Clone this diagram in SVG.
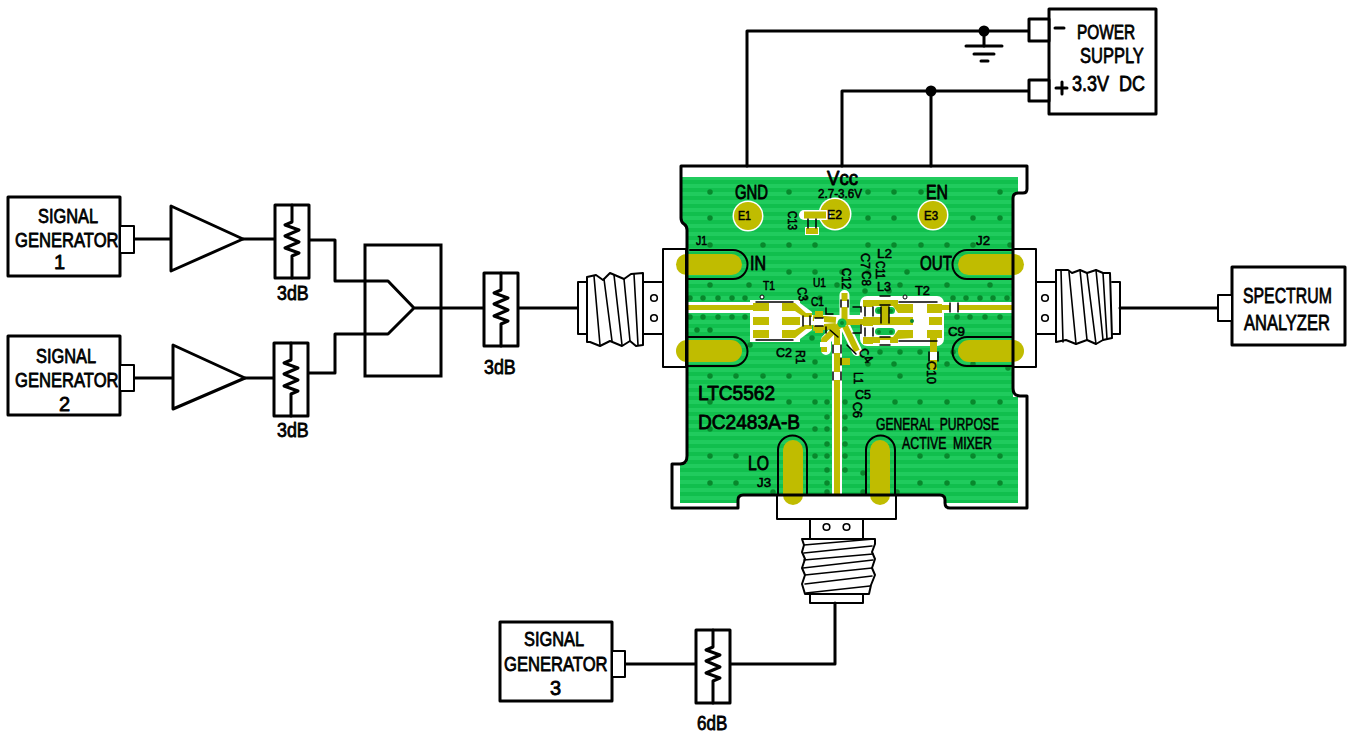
<svg xmlns="http://www.w3.org/2000/svg" width="1350" height="734" viewBox="0 0 1350 734">
<style>
.l{fill:none;stroke:#000;stroke-width:3;stroke-linejoin:round;stroke-linecap:round}
.b{fill:#fff;stroke:#000;stroke-width:3;stroke-linejoin:round}
.m{fill:#fff;stroke:#000;stroke-width:2;stroke-linejoin:round}
.n{fill:none;stroke:#000;stroke-width:2;stroke-linecap:round;stroke-linejoin:round}
.h{fill:none;stroke:#000;stroke-width:1.6;stroke-linecap:round}
.t{fill:none;stroke:#000;stroke-width:1.5;stroke-linecap:round}
text{font-family:"Liberation Sans Narrow","Liberation Sans",sans-serif;fill:#000;stroke:#000;stroke-width:.8;stroke-linejoin:round}
.s{stroke-width:.55}
.y{fill:#c0bc00}
.w{fill:#fff}
.ws{fill:none;stroke:#fff;stroke-width:10;stroke-linecap:round;stroke-linejoin:round}
.ys{fill:none;stroke:#c0bc00;stroke-width:6;stroke-linejoin:round}
</style>
<defs>
<pattern id="st" width="8" height="8" patternUnits="userSpaceOnUse"><rect width="8" height="8" fill="#11bf4d"/><rect width="8" height="4" fill="#20cb5d"/></pattern>
<g id="att"><rect class="b" x="0" y="0" width="34" height="73"/><path class="l" d="M17 0V17L10 20L24 25L10 31L24 37L10 43L24 48L17 51V73"/></g>
<g id="hole"><circle r="3.3" fill="#fff" stroke="#000" stroke-width="1.6"/></g>
</defs>

<g id="board">
<polygon fill="url(#st)" points="682,177 1018,177 1018,194 1013,194 1013,397 1018,397 1018,503 945,503 945,495 738,495 738,503 680,503 680,463 687,463 687,228 682,222"/>
<path fill="none" stroke="#08882c" stroke-width="5.500" stroke-linecap="round" d="M710 192h0M789 192h0M868 192h0M894 192h0M921 192h0M1000 192h0M710 218h0M868 218h0M894 218h0M973 218h0M1000 218h0M710 245h0M763 245h0M789 245h0M815 245h0M868 245h0M894 245h0M921 245h0M947 245h0M973 245h0M1010 245h0M789 272h0M815 272h0M842 272h0M868 272h0M907 272h0M710 285h0M749 285h0M837 285h0M900 285h0M947 285h0M990 285h0M690 298h0M703 298h0M718 298h0M732 298h0M745 298h0M806 298h0M820 298h0M865 291h0M889 291h0M953 298h0M966 298h0M980 298h0M993 298h0M1007 298h0M690 317h0M703 317h0M718 317h0M732 317h0M745 317h0M957 317h0M970 317h0M985 317h0M1000 317h0M812 338h0M880 352h0M900 352h0M920 352h0M953 352h0M710 330h0M697 330h0M750 345h0M815 362h0M710 376h0M736 376h0M763 376h0M789 376h0M815 376h0M868 364h0M894 364h0M900 376h0M947 364h0M973 364h0M1008 368h0M710 402h0M789 402h0M815 402h0M827 402h0M845 402h0M895 402h0M920 402h0M947 402h0M973 402h0M1000 402h0M710 429h0M815 429h0M827 429h0M845 429h0M827 417h0M845 417h0M827 444h0M845 444h0M710 456h0M736 456h0M815 456h0M827 456h0M845 456h0M920 456h0M947 456h0M973 456h0M1000 456h0M710 483h0M736 483h0M773 492h0M827 470h0M845 470h0M827 483h0M863 473h0M920 483h0M947 483h0M973 483h0M1000 483h0M827 492h0M863 492h0M897 492h0"/>
<circle class="w" cx="748" cy="216" r="15.5"/><circle class="y" cx="748" cy="216" r="14"/>
<circle class="w" cx="835" cy="214" r="16.5"/><circle class="y" cx="835" cy="214" r="15"/>
<circle class="w" cx="933" cy="215" r="15.5"/><circle class="y" cx="933" cy="215" r="14"/>
<path d="M804 215H826" stroke="#fff" stroke-width="10" stroke-linecap="round"/>
<path d="M804 215H826" stroke="#c0bc00" stroke-width="7"/>
<rect class="w" x="805" y="227" width="14" height="8"/>
<rect class="y" x="806" y="228" width="12" height="6"/>
<path class="t" d="M808 219V228M816 219V228"/>

<rect class="y" x="676" y="254" width="66" height="21" rx="10.5"/>
<rect class="y" x="676" y="340" width="66" height="22" rx="11"/>
<rect class="y" x="958" y="254" width="66" height="21" rx="10.5"/>
<rect class="y" x="958" y="340" width="66" height="22" rx="11"/>
<path class="n" d="M690 250H733A14.5 14.5 0 0 1 733 279H686M686 337H733A14.5 14.5 0 0 1 733 366H686M1012 250H967A14.5 14.5 0 0 0 967 279H1012M1012 337H967A14.5 14.5 0 0 0 967 366H1012"/>
<rect class="y" x="783" y="440" width="20" height="65" rx="10"/>
<rect class="y" x="870" y="440" width="20" height="65" rx="10"/>
<path class="n" d="M778 495V450A14.5 14.5 0 0 1 807 450V495M866 495V450A14.5 14.5 0 0 1 895 450V495"/>

<rect class="w" x="688" y="302" width="70" height="11"/>
<rect class="w" x="750" y="300" width="50" height="42"/>
<polygon class="w" points="796,300 812,312 812,330 796,342"/>
<rect class="w" x="860" y="296" width="84" height="50" rx="7"/>
<rect class="w" x="940" y="302" width="73" height="11"/>
<rect class="w" x="832" y="360" width="10" height="135"/>
<path class="ws" d="M806 320H866M844.500 295V323M842 323L826 340V350M837 330V372M845 326L857 351"/>

<g class="y">
<rect x="688" y="305" width="65" height="5"/>
<rect x="753" y="303" width="16" height="8"/><rect x="753" y="317" width="16" height="8"/><rect x="753" y="330" width="16" height="8"/>
<rect x="782" y="317" width="18" height="8"/>
<polygon points="782,303 795,303 806,313 812,313 812,317 804,317 795,311 782,311"/>
<polygon points="782,330 795,330 804,325 812,325 812,329 806,329 795,338 782,338"/>
<rect x="834" y="380" width="6" height="115"/>
<rect x="840" y="358" width="10" height="7"/>
<rect x="815" y="311" width="8" height="7"/><rect x="815" y="326" width="8" height="7"/>
<rect x="863" y="300" width="10" height="7"/><rect x="863" y="317" width="10" height="9"/><rect x="863" y="337" width="10" height="7"/>
<rect x="866" y="300" width="32" height="6"/><rect x="866" y="337" width="32" height="6"/>
<polygon points="897,304 913,304 913,313 898,313 893,306"/>
<polygon points="893,337 898,330 913,330 913,338 897,339"/>
<rect x="863" y="317" width="50" height="8"/>
<rect x="927" y="304" width="15" height="9"/><rect x="929" y="317" width="13" height="8"/><rect x="927" y="330" width="15" height="8"/>
<rect x="942" y="305" width="8" height="5"/><rect x="958" y="305" width="55" height="5"/>
<rect x="930" y="338" width="7" height="14"/><rect x="930" y="360" width="7" height="10"/>
</g>
<rect x="875" y="307" width="20" height="7" rx="3.5" fill="#11bf4d"/>
<rect x="875" y="328" width="20" height="7" rx="3.500" fill="#11bf4d"/>
<rect class="y" x="881" y="306" width="8" height="11"/>
<rect class="w" x="880" y="296" width="10" height="4"/><rect class="w" x="880" y="340" width="10" height="5"/>
<path class="ys" d="M813 318L836 320M813 328L836 326M844.500 293V323M842 322H866M842 323L824 340V352M837 330V372M845 326L857 351"/>
<rect class="w" x="950" y="304" width="8" height="7"/>
<rect class="w" x="930" y="352" width="7" height="8"/>
<rect class="w" x="840" y="301" width="9" height="6"/>
<rect class="w" x="814" y="318" width="10" height="8"/>
<rect class="w" x="820" y="342" width="8" height="5"/>
<rect class="w" x="833" y="345" width="8" height="8"/><rect class="w" x="833" y="372" width="8" height="8"/>
<circle cx="842" cy="323" r="4.500" fill="#11bf4d"/>
<path fill="none" stroke="#08882c" stroke-width="4" stroke-linecap="round" d="M842 323h0M912 321h0M879 311h0M891 311h0M879 332h0M891 332h0"/>
<path class="t" d="M756 302H793M756 340H793M899 302H937M899 341H937M810 316V325M803 316V326M815 318H823M815 326H823M826 308V314H833M826 327V333M853 307H861V312M853 333H861V325M841 300V307M848 300V307M830 330L838 337M847 345L856 354M833 345V353M841 345V353M833 372V380M841 372V380M950 303V312M958 303V312M929 352V361M938 352V361M865 307V316M873 307V316M865 328V336M873 328V336M880 296H890M880 305H890M880 337H890M880 345H890M881 307V323M889 307V323M841 358V365"/>
<circle cx="762" cy="297" r="2" fill="#fff" stroke="#000" stroke-width="1"/>
<circle cx="905" cy="297" r="2" fill="#fff" stroke="#000" stroke-width="1"/>
<path class="l" d="M681 166H1027V189Q1027 193 1023 193H1018Q1013 193 1013 198V388Q1013 396 1020 396H1027V508H950Q945 508 945 503V500Q945 495 940 495H743Q738 495 738 500V508H672V464H680Q687 464 687 456V230Q687 226 684 224Q681 222 681 218Z" stroke-width="3.5"/>
</g>
<g id="board-labels">
<text x="827" y="185" font-size="20" textLength="31" lengthAdjust="spacingAndGlyphs">Vcc</text>
<text class="s" x="818" y="198" font-size="12.5" textLength="44" lengthAdjust="spacingAndGlyphs">2.7-3.6V</text>
<text x="735" y="199" font-size="19.5" textLength="33" lengthAdjust="spacingAndGlyphs">GND</text>
<text x="926" y="199" font-size="19.5" textLength="22" lengthAdjust="spacingAndGlyphs">EN</text>
<text class="s" x="738" y="219.500" font-size="13" textLength="13" lengthAdjust="spacingAndGlyphs">E1</text>
<text class="s" x="827" y="219" font-size="13" textLength="15" lengthAdjust="spacingAndGlyphs">E2</text>
<text class="s" x="924" y="220" font-size="13" textLength="14" lengthAdjust="spacingAndGlyphs">E3</text>
<text class="s" transform="translate(788 211) rotate(90)" font-size="13" textLength="19" lengthAdjust="spacingAndGlyphs">C13</text>
<text class="s" x="696" y="245" font-size="13" textLength="11" lengthAdjust="spacingAndGlyphs">J1</text>
<text class="s" x="976" y="245" font-size="13" textLength="14" lengthAdjust="spacingAndGlyphs">J2</text>
<text x="750" y="270" font-size="20" textLength="16" lengthAdjust="spacingAndGlyphs">IN</text>
<text x="920" y="270" font-size="20" textLength="32" lengthAdjust="spacingAndGlyphs">OUT</text>
<text class="s" x="763" y="290" font-size="13" textLength="12" lengthAdjust="spacingAndGlyphs">T1</text>
<text class="s" x="813" y="287" font-size="13" textLength="13" lengthAdjust="spacingAndGlyphs">U1</text>
<text class="s" transform="translate(797 288) rotate(80)" font-size="13" textLength="14" lengthAdjust="spacingAndGlyphs">C3</text>
<text class="s" x="811" y="306" font-size="13" textLength="13" lengthAdjust="spacingAndGlyphs">C1</text>
<text class="s" transform="translate(842 268) rotate(90)" font-size="13" textLength="21" lengthAdjust="spacingAndGlyphs">C12</text>
<text class="s" transform="translate(861 253) rotate(90)" font-size="13" textLength="16" lengthAdjust="spacingAndGlyphs">C7</text>
<text class="s" transform="translate(862 271) rotate(90)" font-size="13" textLength="15" lengthAdjust="spacingAndGlyphs">C8</text>
<text class="s" x="877" y="258" font-size="13" textLength="15" lengthAdjust="spacingAndGlyphs">L2</text>
<text class="s" transform="translate(876 261) rotate(90)" font-size="13" textLength="18" lengthAdjust="spacingAndGlyphs">C11</text>
<text class="s" x="877" y="291" font-size="13" textLength="14" lengthAdjust="spacingAndGlyphs">L3</text>
<text class="s" x="915" y="295" font-size="13" textLength="15" lengthAdjust="spacingAndGlyphs">T2</text>
<text class="s" x="948" y="336" font-size="13" textLength="17" lengthAdjust="spacingAndGlyphs">C9</text>
<text class="s" transform="translate(927 361) rotate(90)" font-size="13" textLength="23" lengthAdjust="spacingAndGlyphs">C10</text>
<text class="s" x="776" y="357" font-size="13" textLength="16" lengthAdjust="spacingAndGlyphs">C2</text>
<text class="s" transform="translate(796 350) rotate(90)" font-size="13" textLength="14" lengthAdjust="spacingAndGlyphs">R1</text>
<text class="s" transform="translate(858 352) rotate(55)" font-size="13" textLength="15" lengthAdjust="spacingAndGlyphs">C4</text>
<text class="s" transform="translate(854 372) rotate(90)" font-size="13" textLength="12" lengthAdjust="spacingAndGlyphs">L1</text>
<text class="s" x="855" y="399" font-size="13" textLength="16" lengthAdjust="spacingAndGlyphs">C5</text>
<text class="s" transform="translate(853 402) rotate(90)" font-size="13" textLength="16" lengthAdjust="spacingAndGlyphs">C6</text>
<text x="698" y="400" font-size="20" textLength="77" lengthAdjust="spacingAndGlyphs">LTC5562</text>
<text x="698" y="429" font-size="20" textLength="102" lengthAdjust="spacingAndGlyphs">DC2483A-B</text>
<text class="s" x="876" y="430" font-size="17" textLength="123" lengthAdjust="spacingAndGlyphs" word-spacing="4">GENERAL PURPOSE</text>
<text class="s" x="902" y="449" font-size="17" textLength="90" lengthAdjust="spacingAndGlyphs" word-spacing="4">ACTIVE MIXER</text>
<text x="748" y="470" font-size="20" textLength="21" lengthAdjust="spacingAndGlyphs">LO</text>
<text class="s" x="757" y="487" font-size="13" textLength="14" lengthAdjust="spacingAndGlyphs">J3</text>
</g>

<g id="connectors">
<path class="l" d="M134 239H171M243 239H275M309 240H335V281H388L414 308L388 334H335V373H308M134 378H173M245 378H274M414 308H484M518 308H578M1120 308H1218M625 664H696M730 664H835V603M747 166V31H1029M842 166V91H1029M931 91V166M984 31V46"/>
<path class="l" d="M966 46H1002M974 54H994M981 61H988"/>
<circle cx="984" cy="31" r="5.500"/>
<circle cx="931" cy="91" r="5.500"/>
</g>

<g id="gen1"><rect class="b" x="8" y="197" width="112" height="79"/><rect class="m" x="120" y="226" width="14" height="27" stroke-width="2.500"/>
<text transform="translate(38 223) scale(.82 1)" font-size="20">SIGNAL</text><text transform="translate(15 247) scale(.83 1)" font-size="20">GENERATOR</text><text x="54" y="269" font-size="20">1</text></g>
<g id="gen2"><rect class="b" x="8" y="336" width="112" height="79"/><rect class="m" x="120" y="365" width="14" height="26" stroke-width="2.500"/>
<text transform="translate(36 363) scale(.82 1)" font-size="20">SIGNAL</text><text transform="translate(15 387) scale(.83 1)" font-size="20">GENERATOR</text><text x="59" y="411" font-size="20">2</text></g>
<g id="gen3"><rect class="b" x="500" y="622" width="112" height="79"/><rect class="m" x="612" y="651" width="13" height="26" stroke-width="2.500"/>
<text transform="translate(524 646) scale(.82 1)" font-size="20">SIGNAL</text><text transform="translate(504 671) scale(.83 1)" font-size="20">GENERATOR</text><text x="550" y="695" font-size="20">3</text></g>
<g id="amp1"><polygon class="b" points="171,206 243,239 171,271"/></g>
<g id="amp2"><polygon class="b" points="173,345 245,378 173,409"/></g>
<g id="att1"><use href="#att" x="275" y="205"/><text transform="translate(277 300) scale(.85 1)" font-size="21">3dB</text></g>
<g id="att2"><use href="#att" x="274" y="343"/><text transform="translate(277 437) scale(.85 1)" font-size="21">3dB</text></g>
<g id="att3"><use href="#att" x="484" y="273"/><text transform="translate(484 374) scale(.85 1)" font-size="21">3dB</text></g>
<g id="att4"><use href="#att" x="696" y="630"/><text transform="translate(697 730) scale(.85 1)" font-size="20">6dB</text></g>
<g id="combiner"><rect x="365" y="245" width="76" height="131" fill="none" stroke="#000" stroke-width="3"/></g>

<g id="conn-left">
<rect class="m" x="663" y="249" width="23" height="118" style="fill:none"/>
<path class="n" d="M643 282H663M643 334H663"/>
<use href="#hole" x="654" y="298"/><use href="#hole" x="654" y="318"/>
<path class="m" d="M578 282H587V334H578Z"/>
<path class="m" d="M587 277L596 275L603 280L610 273L624 279L631 274L643 273V345L636 346L630 341L622 346L610 341L600 346L590 342L587 342Z"/>
<path class="h" d="M594 276L600 345M604 279L612 341M614 275L622 345M624 279L630 341M634 274L638 345"/>
</g>
<g id="conn-right">
<rect class="m" x="1013" y="249" width="23" height="118" style="fill:none"/>
<path class="n" d="M1036 282H1056M1036 334H1056"/>
<use href="#hole" x="1045" y="298"/><use href="#hole" x="1045" y="318"/>
<path class="n" d="M1112 282H1120V334H1112"/>
<path class="m" d="M1056 270H1068L1072 273L1080 270L1087 273L1096 270L1103 273L1110 273L1112 338L1103 340L1096 344L1087 340L1076 344L1066 340L1056 342Z"/>
<path class="h" d="M1061 270L1063 342M1069 272L1076 344M1080 270L1087 340M1087 273L1096 344M1096 270L1103 340M1103 273L1107 339"/>
</g>
<g id="conn-bottom">
<rect class="m" x="777" y="495" width="119" height="24" style="fill:none"/>
<path class="n" d="M810 519V539M863 519V539"/>
<use href="#hole" x="826.500" y="527"/><use href="#hole" x="846.500" y="527"/>
<path class="n" d="M810 595V603H863V595"/>
<path class="m" d="M802 539H875V544L872 552L875 559L872 568L875 575L871 585L869 594H805L802 584L805 575L802 568L805 559L802 552L804 545Z"/>
<path class="h" d="M804 545L874 539M804 553L872 546M804 560L873 554M803 568L873 560M805 575L872 568M805 584L872 576M806 593L870 586"/>
</g>

<g id="power"><rect class="b" x="1049" y="9" width="107" height="105"/><rect class="b" x="1029" y="19" width="20" height="22"/><rect class="b" x="1029" y="80" width="20" height="21"/>
<path class="l" d="M1055 28H1064M1062 82V94M1056 88H1067"/>
<text transform="translate(1077 39) scale(.77 1)" font-size="20">POWER</text><text transform="translate(1080 63) scale(.75 1)" font-size="22">SUPPLY</text><text transform="translate(1072 91) scale(.82 1)" font-size="22" word-spacing="6">3.3V DC</text></g>
<g id="spectrum"><rect class="b" x="1232" y="267" width="113" height="78"/><rect class="m" x="1218" y="295" width="14" height="26" stroke-width="2.500"/>
<text transform="translate(1243 303) scale(.72 1)" font-size="22">SPECTRUM</text><text transform="translate(1244 330) scale(.75 1)" font-size="22">ANALYZER</text></g>
</svg>
